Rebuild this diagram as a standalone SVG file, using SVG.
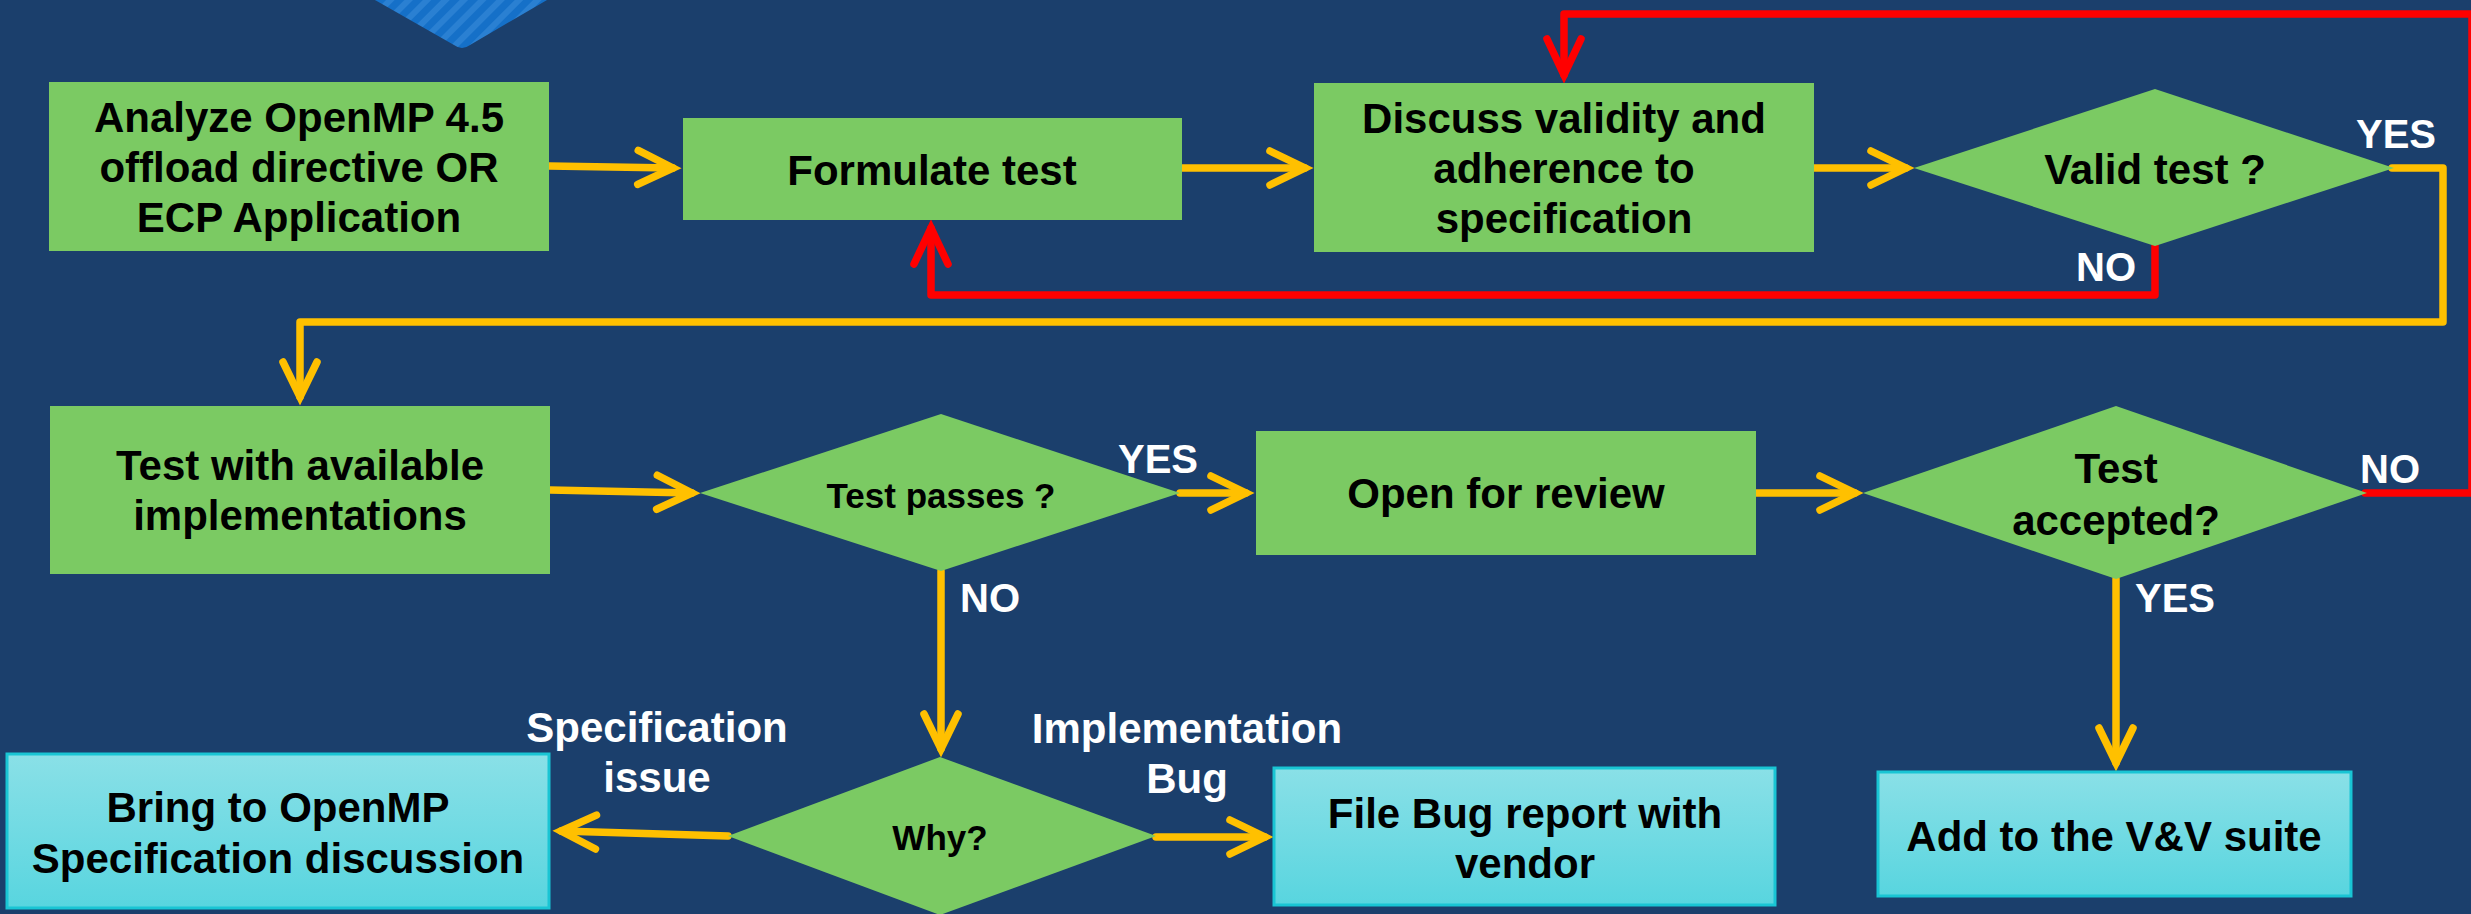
<svg xmlns="http://www.w3.org/2000/svg" width="2471" height="914" viewBox="0 0 2471 914">
  <style>
    .proc { fill: #7bca63; }
    .term { fill: url(#cyanFill); stroke: #19c5d4; stroke-width: 3; }
    .txt { font-family: "Liberation Sans", Arial, sans-serif; font-weight: bold; font-size: 42px; fill: #000; text-anchor: middle; }
    .small { font-size: 35px; }
    .lbl { font-family: "Liberation Sans", Arial, sans-serif; font-weight: bold; font-size: 40px; fill: #fff; text-anchor: middle; }
    .wide { font-size: 42px; }
    .yl { fill: none; stroke: #ffc000; stroke-width: 7.5; stroke-linecap: round; stroke-linejoin: round; }
    .rd { fill: none; stroke: #ff0000; stroke-width: 7.5; stroke-linecap: round; stroke-linejoin: round; }
  </style>
  <defs>
    <linearGradient id="cyanFill" x1="0" y1="0" x2="0" y2="1">
      <stop offset="0" stop-color="#8ae0e7"/>
      <stop offset="1" stop-color="#58d5df"/>
    </linearGradient>
    <pattern id="stripes" width="13" height="13" patternUnits="userSpaceOnUse" patternTransform="rotate(45)">
      <rect width="13" height="13" fill="#1570c8"/>
      <rect width="6" height="13" fill="#2a80d2"/>
    </pattern>
    <marker id="headY" markerUnits="userSpaceOnUse" viewBox="-50 -25 60 50" refX="0" refY="0" markerWidth="60" markerHeight="50" orient="auto" overflow="visible">
      <path d="M-35,-17 L0,0 L-35,17" fill="none" stroke="#ffc000" stroke-width="7.5" stroke-linecap="round" stroke-linejoin="miter"/>
    </marker>
    <marker id="headR" markerUnits="userSpaceOnUse" viewBox="-50 -25 60 50" refX="0" refY="0" markerWidth="60" markerHeight="50" orient="auto" overflow="visible">
      <path d="M-36,-17 L0,0 L-36,17" fill="none" stroke="#ff0000" stroke-width="7.5" stroke-linecap="round" stroke-linejoin="miter"/>
    </marker>
  </defs>

  <!-- background -->
  <rect width="2471" height="914" fill="#1b3f6c"/>

  <!-- striped ornament at the top edge -->
  <path d="M375,0 L454,45 Q462,51 470,45 L547,0 Z" fill="url(#stripes)"/>

  <!-- connectors -->
  <g id="connectors">
    <path class="yl" d="M549,166 L673,168" marker-end="url(#headY)"/>
    <path class="yl" d="M1182,168 L1305,168" marker-end="url(#headY)"/>
    <path class="yl" d="M1814,168 L1906,168" marker-end="url(#headY)"/>
    <path class="yl" d="M2392,168 L2443,168 L2443,322 L300,322 L300,397" marker-end="url(#headY)"/>
    <path class="yl" d="M550,490 L692,493" marker-end="url(#headY)"/>
    <path class="yl" d="M1180,493 L1246,493" marker-end="url(#headY)"/>
    <path class="yl" d="M1756,493 L1855,493" marker-end="url(#headY)"/>
    <path class="yl" d="M2116,579 L2116,763" marker-end="url(#headY)"/>
    <path class="yl" d="M941,571 L941,749" marker-end="url(#headY)"/>
    <path class="yl" d="M728,836 L561,831" marker-end="url(#headY)"/>
    <path class="yl" d="M1156,837 L1265,837" marker-end="url(#headY)"/>
    <path class="rd" d="M2155,246 L2155,295 L931,295 L931,228" marker-end="url(#headR)"/>
    <path class="rd" d="M2365,493 L2472,493 L2472,14 L1564,14 L1564,75" marker-end="url(#headR)"/>
  </g>

  <!-- nodes -->
  <g id="analyze">
    <rect class="proc" x="49" y="82" width="500" height="169"/>
    <text class="txt" x="299" y="132">Analyze OpenMP 4.5</text>
    <text class="txt" x="299" y="182">offload directive OR</text>
    <text class="txt" x="299" y="232">ECP Application</text>
  </g>
  <g id="formulate">
    <rect class="proc" x="683" y="118" width="499" height="102"/>
    <text class="txt" x="932" y="185">Formulate test</text>
  </g>
  <g id="discuss">
    <rect class="proc" x="1314" y="83" width="500" height="169"/>
    <text class="txt" x="1564" y="133">Discuss validity and</text>
    <text class="txt" x="1564" y="183">adherence to</text>
    <text class="txt" x="1564" y="233">specification</text>
  </g>
  <g id="valid">
    <polygon class="proc" points="1914,168 2155,89 2394,168 2155,246"/>
    <text class="txt" x="2155" y="184">Valid test ?</text>
    <text class="lbl" x="2396" y="148">YES</text>
    <text class="lbl" x="2106" y="281">NO</text>
  </g>
  <g id="testwith">
    <rect class="proc" x="50" y="406" width="500" height="168"/>
    <text class="txt" x="300" y="480">Test with available</text>
    <text class="txt" x="300" y="530">implementations</text>
  </g>
  <g id="passes">
    <polygon class="proc" points="700,493 941,414 1180,493 941,571"/>
    <text class="txt small" x="941" y="508">Test passes ?</text>
    <text class="lbl" x="1158" y="473">YES</text>
    <text class="lbl" x="990" y="612">NO</text>
  </g>
  <g id="review">
    <rect class="proc" x="1256" y="431" width="500" height="124"/>
    <text class="txt" x="1506" y="508">Open for review</text>
  </g>
  <g id="accepted">
    <polygon class="proc" points="1863,493 2116,406 2367,493 2116,579"/>
    <text class="txt" x="2116" y="483">Test</text>
    <text class="txt" x="2116" y="535">accepted?</text>
    <text class="lbl" x="2390" y="483">NO</text>
    <text class="lbl" x="2175" y="612">YES</text>
  </g>
  <g id="why">
    <polygon class="proc" points="728,836 940,757 1156,836 940,915"/>
    <text class="txt small" x="940" y="850">Why?</text>
    <text class="lbl wide" x="657" y="742">Specification</text>
    <text class="lbl wide" x="657" y="792">issue</text>
    <text class="lbl wide" x="1187" y="743">Implementation</text>
    <text class="lbl wide" x="1187" y="793">Bug</text>
  </g>
  <g id="bring">
    <rect class="term" x="7" y="754" width="542" height="154"/>
    <text class="txt" x="278" y="822">Bring to OpenMP</text>
    <text class="txt" x="278" y="873">Specification discussion</text>
  </g>
  <g id="filebug">
    <rect class="term" x="1274" y="768" width="501" height="137"/>
    <text class="txt" x="1525" y="828">File Bug report with</text>
    <text class="txt" x="1525" y="878">vendor</text>
  </g>
  <g id="addsuite">
    <rect class="term" x="1878" y="772" width="473" height="124"/>
    <text class="txt" x="2114" y="851">Add to the V&amp;V suite</text>
  </g>
</svg>
